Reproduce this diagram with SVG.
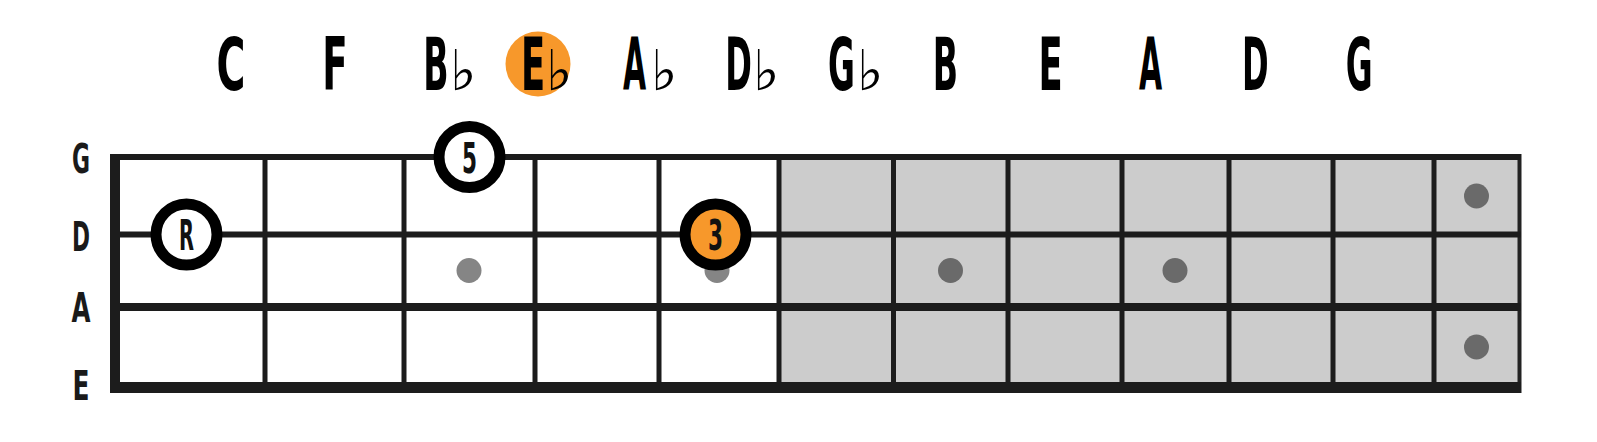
<svg xmlns="http://www.w3.org/2000/svg" width="1597" height="442" viewBox="0 0 1597 442">
  <style>
    .note { font-family: "DejaVu Sans", "Liberation Sans", sans-serif; font-weight: bold; font-size: 73px; fill: #000; text-anchor: middle; }
    .flat { font-family: "DejaVu Sans", sans-serif; font-weight: normal; font-size: 56px; fill: #000; }
    .lbl { font-family: "DejaVu Sans", "Liberation Sans", sans-serif; font-stretch: condensed; font-weight: bold; font-size: 41px; fill: #1a1a1a; }
    .ctext { font-family: "DejaVu Sans", "Liberation Sans", sans-serif; font-stretch: condensed; font-weight: bold; font-size: 43px; fill: #111; }
    .str { stroke: #1c1c1c; fill: none; }
    .fret { stroke: #1c1c1c; stroke-width: 5; }
    .dotw { fill: #858585; }
    .dotg { fill: #6a6a6a; }
    .ring { stroke: #000; stroke-width: 11; }
  </style>
  <rect x="0" y="0" width="1597" height="442" fill="#ffffff"/>

  <g id="notes">
    <g id="note-C"><text class="note" transform="translate(231,90) scale(0.54,1)">C</text></g>
    <g id="note-F"><text class="note" transform="translate(335,90) scale(0.51,1)">F</text></g>
    <g id="note-Bb"><text class="note" transform="translate(436,90) scale(0.455,1)">B</text><text class="flat" x="450" y="90">♭</text></g>
    <g id="note-Eb">
      <circle cx="538" cy="64" r="32.5" fill="#F7982B"/>
      <text class="note" transform="translate(533,90) scale(0.485,1)">E</text><text class="flat" x="546" y="90">♭</text>
    </g>
    <g id="note-Ab"><text class="note" transform="translate(634.5,90) scale(0.41,1)">A</text><text class="flat" x="651" y="90">♭</text></g>
    <g id="note-Db"><text class="note" transform="translate(738.5,90) scale(0.44,1)">D</text><text class="flat" x="753" y="90">♭</text></g>
    <g id="note-Gb"><text class="note" transform="translate(841.5,90) scale(0.45,1)">G</text><text class="flat" x="857" y="90">♭</text></g>
    <g id="note-B"><text class="note" transform="translate(945.5,90) scale(0.455,1)">B</text></g>
    <g id="note-E"><text class="note" transform="translate(1050.5,90) scale(0.485,1)">E</text></g>
    <g id="note-A"><text class="note" transform="translate(1150.5,90) scale(0.41,1)">A</text></g>
    <g id="note-D"><text class="note" transform="translate(1255.3,90) scale(0.44,1)">D</text></g>
    <g id="note-G"><text class="note" transform="translate(1359.2,90) scale(0.45,1)">G</text></g>
  </g>

  <g id="string-labels">
    <text class="lbl" x="72" y="173" textLength="18" lengthAdjust="spacingAndGlyphs">G</text>
    <text class="lbl" x="72" y="251" textLength="18" lengthAdjust="spacingAndGlyphs">D</text>
    <text class="lbl" x="71.5" y="322" textLength="19" lengthAdjust="spacingAndGlyphs">A</text>
    <text class="lbl" x="72.5" y="400" textLength="17" lengthAdjust="spacingAndGlyphs">E</text>
  </g>

  <g id="fretboard">
    <rect x="120" y="157" width="659" height="230" fill="#ffffff"/>
    <rect x="779" y="157" width="740" height="230" fill="#cccccc"/>
    <g id="frets">
      <line class="fret" x1="265" y1="157" x2="265" y2="387"/>
      <line class="fret" x1="404" y1="157" x2="404" y2="387"/>
      <line class="fret" x1="535" y1="157" x2="535" y2="387"/>
      <line class="fret" x1="659" y1="157" x2="659" y2="387"/>
      <line class="fret" x1="779" y1="157" x2="779" y2="387"/>
      <line class="fret" x1="893.5" y1="157" x2="893.5" y2="387"/>
      <line class="fret" x1="1008" y1="157" x2="1008" y2="387"/>
      <line class="fret" x1="1122" y1="157" x2="1122" y2="387"/>
      <line class="fret" x1="1229" y1="157" x2="1229" y2="387"/>
      <line class="fret" x1="1333" y1="157" x2="1333" y2="387"/>
      <line class="fret" x1="1434" y1="157" x2="1434" y2="387"/>
      <line x1="1519.5" y1="154" x2="1519.5" y2="393" stroke="#222" stroke-width="4"/>
    </g>
    <g id="strings">
      <line class="str" x1="110" y1="157" x2="1521" y2="157" stroke-width="6"/>
      <line class="str" x1="110" y1="234.5" x2="1521" y2="234.5" stroke-width="6"/>
      <line class="str" x1="110" y1="307" x2="1521" y2="307" stroke-width="8"/>
      <line class="str" x1="110" y1="387.5" x2="1521" y2="387.5" stroke-width="11"/>
    </g>
    <rect id="nut" x="110" y="154" width="10" height="239" fill="#1c1c1c"/>
  </g>

  <g id="inlays">
    <circle class="dotw" cx="469" cy="270.5" r="12.5"/>
    <circle class="dotw" cx="717" cy="270.5" r="12.5"/>
    <circle class="dotg" cx="950.5" cy="270.5" r="12.5"/>
    <circle class="dotg" cx="1175" cy="270.5" r="12.5"/>
    <circle class="dotg" cx="1476.5" cy="196" r="12.5"/>
    <circle class="dotg" cx="1476.5" cy="347" r="12.5"/>
  </g>

  <g id="marker-R">
    <circle class="ring" cx="186.5" cy="234.5" r="30.5" fill="#ffffff"/>
    <text class="ctext" x="179" y="250" textLength="15" lengthAdjust="spacingAndGlyphs">R</text>
  </g>
  <g id="marker-5">
    <circle class="ring" cx="469.5" cy="157" r="30.5" fill="#ffffff"/>
    <text class="ctext" x="462" y="172.5" textLength="15" lengthAdjust="spacingAndGlyphs">5</text>
  </g>
  <g id="marker-3">
    <circle class="ring" cx="715.5" cy="234.5" r="30.5" fill="#F7982B"/>
    <text class="ctext" x="708" y="250" textLength="15" lengthAdjust="spacingAndGlyphs">3</text>
  </g>
</svg>
